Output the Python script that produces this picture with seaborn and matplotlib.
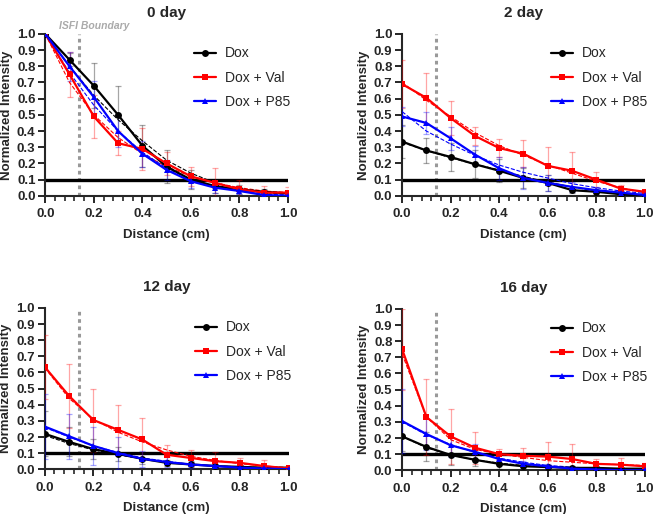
import pandas as pd
import matplotlib.pyplot as plt
import numpy as np
import seaborn as sns

sns.set_theme(style="ticks")
plt.rcParams["font.family"] = ["Liberation Sans", "DejaVu Sans"]

distance = [0.0, 0.1, 0.2, 0.3, 0.4, 0.5, 0.6, 0.7, 0.8, 0.9, 1.0]
groups = ["Dox", "Dox + Val", "Dox + P85"]
days = ["0 day", "2 day", "12 day", "16 day"]

# mean values per day (Dox, Dox + Val, Dox + P85)
dox_0 = [1.0, 0.84, 0.68, 0.50, 0.31, 0.18, 0.10, 0.06, 0.04, 0.025, 0.015]
val_0 = [1.0, 0.75, 0.49, 0.325, 0.29, 0.20, 0.12, 0.08, 0.04, 0.02, 0.02]
p85_0 = [1.0, 0.80, 0.61, 0.40, 0.26, 0.16, 0.09, 0.05, 0.03, 0.005, 0.0]
dox_2 = [0.335, 0.28, 0.24, 0.195, 0.155, 0.11, 0.08, 0.035, 0.025, 0.01, 0.0]
val_2 = [0.69, 0.605, 0.48, 0.37, 0.295, 0.26, 0.185, 0.155, 0.10, 0.045, 0.025]
p85_2 = [0.49, 0.45, 0.355, 0.255, 0.17, 0.11, 0.08, 0.055, 0.035, 0.02, 0.005]
dox_12 = [0.22, 0.17, 0.125, 0.095, 0.065, 0.04, 0.03, 0.02, 0.015, 0.01, 0.01]
val_12 = [0.635, 0.455, 0.305, 0.245, 0.185, 0.09, 0.07, 0.05, 0.04, 0.02, 0.005]
p85_12 = [0.265, 0.205, 0.145, 0.10, 0.065, 0.045, 0.03, 0.02, 0.01, 0.005, 0.0]
dox_16 = [0.21, 0.145, 0.095, 0.065, 0.04, 0.025, 0.02, 0.015, 0.015, 0.01, 0.01]
val_16 = [0.75, 0.33, 0.21, 0.14, 0.10, 0.09, 0.085, 0.07, 0.04, 0.035, 0.025]
p85_16 = [0.305, 0.225, 0.155, 0.115, 0.07, 0.04, 0.025, 0.01, 0.005, 0.0, 0.0]

# error bar half-widths (SD)
dox_0_err = [0.0, 0.04, 0.14, 0.18, 0.13, 0.10, 0.06, 0.04, 0.03, 0.02, 0.01]
val_0_err = [0.0, 0.14, 0.13, 0.075, 0.13, 0.07, 0.06, 0.09, 0.06, 0.04, 0.035]
p85_0_err = [0.0, 0.09, 0.10, 0.10, 0.08, 0.06, 0.04, 0.03, 0.02, 0.01, 0.005]
dox_2_err = [0.10, 0.08, 0.085, 0.085, 0.07, 0.06, 0.05, 0.02, 0.02, 0.01, 0.005]
val_2_err = [0.15, 0.155, 0.105, 0.055, 0.055, 0.085, 0.115, 0.115, 0.045, 0.025, 0.01]
p85_2_err = [0.06, 0.07, 0.07, 0.05, 0.07, 0.07, 0.05, 0.03, 0.02, 0.01, 0.005]
dox_12_err = [0.14, 0.09, 0.06, 0.045, 0.03, 0.02, 0.015, 0.01, 0.01, 0.005, 0.005]
val_12_err = [0.20, 0.20, 0.195, 0.155, 0.13, 0.06, 0.05, 0.06, 0.03, 0.04, 0.005]
p85_12_err = [0.20, 0.14, 0.12, 0.10, 0.05, 0.03, 0.02, 0.015, 0.01, 0.005, 0.005]
dox_16_err = [0.09, 0.09, 0.06, 0.04, 0.03, 0.02, 0.015, 0.01, 0.01, 0.005, 0.005]
val_16_err = [0.25, 0.235, 0.17, 0.10, 0.035, 0.05, 0.09, 0.09, 0.03, 0.04, 0.02]
p85_16_err = [0.20, 0.10, 0.07, 0.05, 0.03, 0.02, 0.015, 0.01, 0.005, 0.005, 0.005]

# fitted curves (thin dashed), read at the same distances
dox_0_fit = [1.0, 0.80, 0.62, 0.47, 0.34, 0.22, 0.14, 0.08, 0.045, 0.02, 0.01]
val_0_fit = [1.0, 0.70, 0.50, 0.36, 0.26, 0.18, 0.12, 0.08, 0.05, 0.03, 0.02]
p85_0_fit = [1.0, 0.76, 0.56, 0.40, 0.27, 0.17, 0.10, 0.06, 0.03, 0.01, 0.005]
dox_2_fit = [0.33, 0.28, 0.235, 0.195, 0.16, 0.12, 0.085, 0.055, 0.03, 0.015, 0.005]
val_2_fit = [0.70, 0.59, 0.49, 0.39, 0.31, 0.25, 0.19, 0.14, 0.09, 0.05, 0.02]
p85_2_fit = [0.52, 0.40, 0.32, 0.25, 0.19, 0.145, 0.11, 0.075, 0.05, 0.03, 0.015]
dox_12_fit = [0.21, 0.16, 0.12, 0.09, 0.065, 0.045, 0.03, 0.02, 0.015, 0.01, 0.005]
val_12_fit = [0.63, 0.44, 0.31, 0.23, 0.17, 0.12, 0.08, 0.055, 0.035, 0.02, 0.01]
p85_12_fit = [0.26, 0.20, 0.145, 0.105, 0.07, 0.05, 0.03, 0.02, 0.01, 0.005, 0.0]
dox_16_fit = [0.21, 0.14, 0.095, 0.065, 0.045, 0.03, 0.02, 0.015, 0.01, 0.01, 0.01]
val_16_fit = [0.72, 0.33, 0.19, 0.13, 0.10, 0.08, 0.06, 0.05, 0.04, 0.035, 0.03]
p85_16_fit = [0.30, 0.22, 0.16, 0.11, 0.075, 0.05, 0.03, 0.02, 0.01, 0.005, 0.0]

means = {"0 day": [dox_0, val_0, p85_0], "2 day": [dox_2, val_2, p85_2],
         "12 day": [dox_12, val_12, p85_12], "16 day": [dox_16, val_16, p85_16]}
errs = {"0 day": [dox_0_err, val_0_err, p85_0_err], "2 day": [dox_2_err, val_2_err, p85_2_err],
        "12 day": [dox_12_err, val_12_err, p85_12_err], "16 day": [dox_16_err, val_16_err, p85_16_err]}
fits = {"0 day": [dox_0_fit, val_0_fit, p85_0_fit], "2 day": [dox_2_fit, val_2_fit, p85_2_fit],
        "12 day": [dox_12_fit, val_12_fit, p85_12_fit], "16 day": [dox_16_fit, val_16_fit, p85_16_fit]}

isfi_boundary = 0.14
threshold = 0.1

colors = {"Dox": "black", "Dox + Val": "#ff0000", "Dox + P85": "#0000ff"}
markers = {"Dox": "o", "Dox + Val": "s", "Dox + P85": "^"}

# long-form table
rows = []
for day in days:
    for g, m, e, f in zip(groups, means[day], errs[day], fits[day]):
        for d, mv, ev, fv in zip(distance, m, e, f):
            rows.append({"day": day, "group": g, "distance": d, "mean": mv, "err": ev, "fit": fv})
df = pd.DataFrame(rows)

fig = plt.figure(figsize=(6.56, 5.14), dpi=100)
positions = {"0 day": [0.069, 0.619, 0.370, 0.315], "2 day": [0.613, 0.619, 0.370, 0.315],
             "12 day": [0.068, 0.087, 0.372, 0.314], "16 day": [0.613, 0.085, 0.370, 0.314]}

xmajor = np.arange(0, 1.0001, 0.2)
xminor = np.arange(0, 1.0001, 0.04)
yticks = np.arange(0, 1.0001, 0.1)

for day in days:
    ax = fig.add_axes(positions[day])
    sub = df[df["day"] == day]
    ax.axvline(isfi_boundary, color="#999999", linestyle=(0, (1.2, 1.2)), linewidth=2.2, zorder=1)
    ax.axhline(threshold, color="black", linewidth=2.4, zorder=2)
    for g in groups:
        s = sub[sub["group"] == g]
        ax.errorbar(s["distance"], s["mean"], yerr=s["err"], fmt="none", ecolor=colors[g],
                    alpha=0.35, elinewidth=0.9, capsize=2.5, capthick=0.9, zorder=3)
    sns.lineplot(data=sub, x="distance", y="fit", hue="group", palette=colors, ax=ax,
                 linestyle="--", linewidth=0.8, legend=False, zorder=4)
    sns.lineplot(data=sub, x="distance", y="mean", hue="group", style="group", palette=colors,
                 markers=markers, dashes=False, markersize=5, markeredgewidth=0, linewidth=1.6,
                 ax=ax, zorder=5)
    for line in ax.get_lines()[-3:]:
        line.set_linestyle("-")

    ax.set_xlim(0, 1.0)
    ax.set_ylim(0, 1.0)
    ax.set_xticks(xmajor)
    ax.set_xticklabels([f"{v:.1f}" for v in xmajor], fontweight="bold", fontsize=9.5)
    ax.set_xticks(xminor, minor=True)
    ax.set_yticks(yticks)
    ax.set_yticklabels([f"{v:.1f}" for v in yticks], fontweight="bold", fontsize=9.5)
    ax.tick_params(axis="both", which="major", length=5, width=1.4, pad=2, bottom=True, left=True)
    ax.tick_params(axis="x", which="major", pad=4)
    ax.tick_params(axis="x", which="minor", length=3.5, width=1.2, bottom=True)
    for sp in ["left", "bottom"]:
        ax.spines[sp].set_linewidth(1.5)
    sns.despine(ax=ax)
    ax.set_xlabel("Distance (cm)", fontweight="bold", fontsize=9.5, labelpad=6)
    ax.set_ylabel("Normalized Intensity", fontweight="bold", fontsize=9.5, labelpad=3)
    ax.set_title(day, fontweight="bold", fontsize=11, pad=12)

    handles, labels = ax.get_legend_handles_labels()
    ax.legend(handles[-3:], labels[-3:], loc="upper right", bbox_to_anchor=(1.06, 1.0),
              frameon=False, fontsize=10, handlelength=1.6, labelspacing=0.75, handletextpad=0.6)
    if day == "0 day":
        ax.text(0.2, 1.03, "ISFI Boundary", transform=ax.get_xaxis_transform(),
                color="#aaaaaa", fontstyle="italic", fontweight="bold", fontsize=7.5, ha="center")

plt.savefig("out.png", dpi=100)
